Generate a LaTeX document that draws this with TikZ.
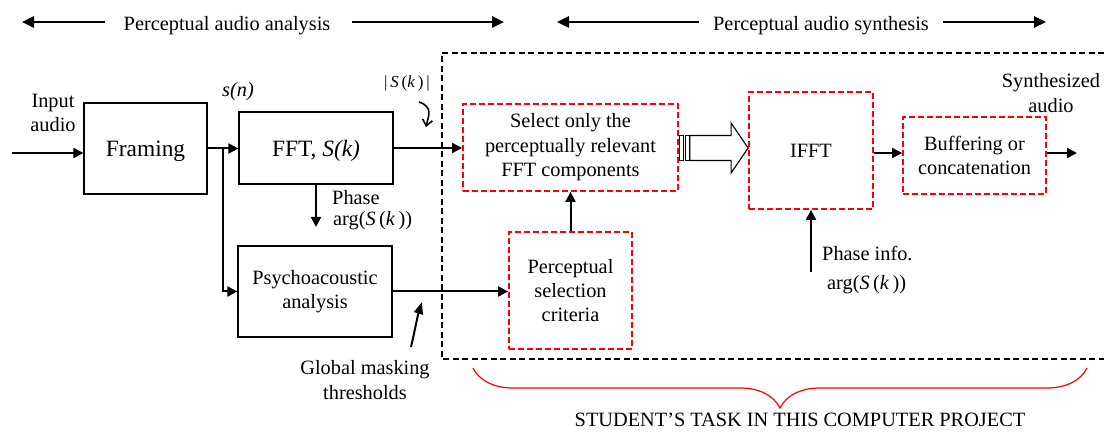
\documentclass[tikz,border=0pt]{standalone}
\usepackage{fontspec}
\setmainfont{Liberation Serif}
\usetikzlibrary{arrows.meta,decorations.pathreplacing,calc}

\begin{document}
\begin{tikzpicture}[x=1bp,y=-1bp,
  txt/.style={font=\fontsize{20.4}{24.5}\selectfont, align=center, inner sep=0pt},
  bigtxt/.style={font=\fontsize{23.5}{28}\selectfont},
  plainbox/.style={draw, line width=1.2bp, inner sep=0pt, txt},
  taskbox/.style={draw=red, line width=1.8bp, dash pattern=on 6bp off 3bp, inner sep=0pt, txt},
  conn/.style={line width=2bp, -{Triangle[length=10bp,width=10bp]}},
  span/.style={line width=2.5bp, -{Triangle[length=12bp,width=11bp]}},
  hint/.style={line width=1.6bp},
]
\useasboundingbox (0,0) rectangle (1104,433);

% --- section headings with their span arrows
\node[txt, anchor=base] (hana) at (227,31) {Perceptual audio analysis};
\node[txt, anchor=base] (hsyn) at (821,31) {Perceptual audio synthesis};
\coordinate (a1) at (105,22); \coordinate (a2) at (22,22);
\coordinate (a3) at (352,22); \coordinate (a4) at (504,22);
\coordinate (a5) at (699,22); \coordinate (a6) at (557,22);
\coordinate (a7) at (943,22); \coordinate (a8) at (1046,22);
\draw[span] (a1) -- (a2);
\draw[span] (a3) -- (a4);
\draw[span] (a5) -- (a6);
\draw[span] (a7) -- (a8);

% --- region handled in the project (open on the right)
\draw[line width=1.8bp, dash pattern=on 6bp off 3.5bp]
  (1104,53) -- (442,53) -- (442,359) -- (1104,359);

% --- processing blocks
\node[plainbox, bigtxt, minimum width=123bp, minimum height=91bp, text depth=-3bp] (framing) at (145.5,148.5) {Framing};
\node[plainbox, bigtxt, minimum width=154bp, minimum height=72bp, text depth=-3bp] (fft) at (316,148) {FFT, \textit{S(k)}};
\node[plainbox, minimum width=154bp, minimum height=91bp] (psy) at (315,291.5) {Psychoacoustic\\analysis};
\node[taskbox, minimum width=215bp, minimum height=87bp] (sel) at (570.5,147.5) {Select only the\\perceptually relevant\\FFT components};
\node[taskbox, minimum width=123bp, minimum height=117bp] (crit) at (570.5,290.5) {Perceptual\\selection\\criteria};
\node[taskbox, minimum width=124bp, minimum height=117bp] (ifft) at (811,150.5) {IFFT};
\node[taskbox, minimum width=143bp, minimum height=77bp] (buf) at (974.5,155.5) {Buffering or\\concatenation};

% --- signal labels
\node[txt] (inlbl) at (53,113) {Input\\audio};
\node[txt, anchor=base] (sn) at (238,97) {\textit{s(n)}};
\node[txt, anchor=base, font=\fontsize{17}{20}\selectfont] (mag) at (407,88) {|\,\textit{S}\,(\textit{k}\,)\,|};
\node[txt, anchor=base west] (ph1) at (332,205) {Phase};
\node[txt, anchor=base west] (ph2) at (333,226) {arg(\textit{S}\,(\textit{k}\,))};
\node[txt, anchor=base west] (pi1) at (822,261) {Phase info.};
\node[txt, anchor=base west] (pi2) at (827,290) {arg(\textit{S}\,(\textit{k}\,))};
\node[txt] (gmt) at (365,380) {Global masking\\thresholds};
\node[txt] (syn) at (1051,93) {Synthesized\\audio};

% --- connectors
\coordinate (in) at (12,153);
\draw[conn] (in) -- (in -| framing.west);
\draw[conn] (framing.east) -- (framing.east -| fft.west);
\coordinate (split) at ($(framing.east)!0.5!(fft.west)$);
\draw[conn] (split) |- (psy.west);
\draw[conn] (fft.east) -- (fft.east -| sel.west);
\draw[conn] (psy.east) -- (psy.east -| crit.west);
\draw[conn] (crit.north) -- (sel.south);
\coordinate (ph) at (316,227);
\draw[conn] (fft.south) -- (ph);
\coordinate (phi) at (811,272);
\draw[conn] (phi) -- (ifft.south);
\coordinate (lvl) at (0,153);
\draw[conn] (ifft.east |- lvl) -- (buf.west |- lvl);
\coordinate (out) at (1077,153);
\draw[conn] (buf.east |- lvl) -- (out);

% --- hollow striped block arrow from selection to IFFT
\coordinate (bt) at ($(sel.east)+(0,0.5)$);
\coordinate (bh) at (ifft.west |- bt);
\draw[fill=white, line width=1.1bp]
  ($(bt)+(11,-12.5)$) -- ($(bh)+(-17,-12.5)$) -- ($(bh)+(-17,-25)$) -- (bh)
  -- ($(bh)+(-17,25)$) -- ($(bh)+(-17,12.5)$) -- ($(bt)+(11,12.5)$) -- cycle;
\draw[line width=0.8bp, fill=white] ($(bt)+(0.5,-12.5)$) rectangle ($(bt)+(4,12.5)$);
\draw[line width=0.8bp, fill=white] ($(bt)+(6,-12.5)$) rectangle ($(bt)+(10,12.5)$);

% --- pointer arrows for the labels
\coordinate (sa) at (419,102); \coordinate (sb) at (426,127);
\draw[hint, -{Straight Barb[length=6bp,width=10bp]}] (sa) .. controls (434,107) and (428,117) .. (sb);
\coordinate (ga) at (411,347); \coordinate (gb) at (422,302);
\draw[line width=2bp, -{Triangle[length=12bp,width=9bp]}] (ga) .. controls (415,330) and (417,318) .. (gb);

% --- brace over the student part
\draw[red, line width=1.2bp, decorate, decoration={brace, mirror, amplitude=40bp}]
  (473,368) -- (1087,368);
\node[txt, anchor=base] (task) at (800,427) {STUDENT’S TASK IN THIS COMPUTER PROJECT};
\end{tikzpicture}
\end{document}
